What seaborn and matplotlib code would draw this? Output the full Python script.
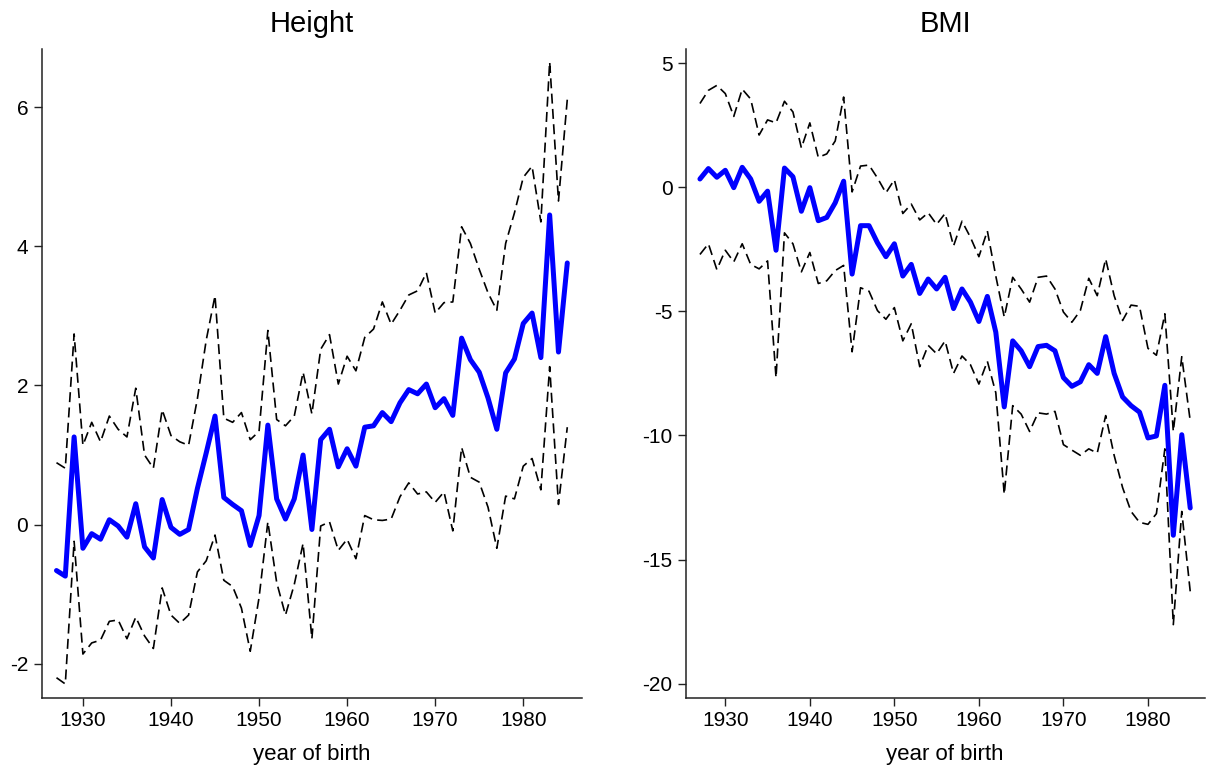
import numpy as np
import pandas as pd
import matplotlib
matplotlib.use("Agg")
import matplotlib.pyplot as plt
import seaborn as sns

# year of birth, 1927-1985
years = list(range(1927, 1986))

# Height: point estimate and 95% bounds
height_est = [-0.66, -0.74, 1.26, -0.34, -0.13, -0.21, 0.07, -0.02, -0.18, 0.30,
              -0.32, -0.48, 0.36, -0.04, -0.14, -0.07, 0.52, 1.03, 1.56, 0.39,
              0.29, 0.20, -0.30, 0.13, 1.43, 0.37, 0.08, 0.37, 1.00, -0.07,
              1.22, 1.37, 0.83, 1.09, 0.84, 1.40, 1.42, 1.61, 1.48, 1.75,
              1.94, 1.88, 2.02, 1.68, 1.81, 1.57, 2.68, 2.37, 2.19, 1.82,
              1.37, 2.18, 2.38, 2.89, 3.04, 2.40, 4.45, 2.48, 3.76]
height_hi = [0.89, 0.81, 2.74, 1.14, 1.47, 1.19, 1.56, 1.37, 1.26, 1.96,
             1.00, 0.81, 1.65, 1.28, 1.19, 1.14, 1.81, 2.65, 3.29, 1.53,
             1.47, 1.61, 1.22, 1.34, 2.79, 1.51, 1.42, 1.56, 2.19, 1.59,
             2.52, 2.73, 2.02, 2.42, 2.21, 2.69, 2.81, 3.20, 2.88, 3.08,
             3.30, 3.36, 3.62, 3.04, 3.19, 3.20, 4.28, 4.04, 3.67, 3.33,
             3.08, 4.04, 4.48, 4.99, 5.15, 4.35, 6.65, 4.65, 6.11]
height_lo = [-2.20, -2.29, -0.24, -1.86, -1.70, -1.66, -1.39, -1.37, -1.64, -1.33,
             -1.60, -1.78, -0.91, -1.30, -1.42, -1.30, -0.68, -0.52, -0.15, -0.80,
             -0.89, -1.20, -1.82, -1.05, 0.04, -0.83, -1.30, -0.86, -0.27, -1.64,
             -0.02, 0.04, -0.37, -0.21, -0.49, 0.13, 0.07, 0.06, 0.08, 0.40,
             0.60, 0.44, 0.47, 0.32, 0.47, -0.09, 1.11, 0.68, 0.61, 0.25,
             -0.34, 0.41, 0.37, 0.84, 0.95, 0.50, 2.27, 0.29, 1.40]

# BMI: point estimate and 95% bounds
bmi_est = [0.33, 0.75, 0.40, 0.68, -0.02, 0.80, 0.33, -0.57, -0.16, -2.54,
           0.77, 0.42, -0.97, -0.02, -1.35, -1.22, -0.63, 0.24, -3.50, -1.55,
           -1.55, -2.24, -2.80, -2.28, -3.58, -3.11, -4.28, -3.70, -4.10, -3.63,
           -4.89, -4.10, -4.63, -5.41, -4.40, -5.84, -8.85, -6.19, -6.59, -7.23,
           -6.42, -6.37, -6.59, -7.67, -8.02, -7.84, -7.15, -7.50, -6.02, -7.50,
           -8.45, -8.80, -9.06, -10.10, -10.02, -7.98, -14.02, -9.97, -12.92]
bmi_hi = [3.37, 3.90, 4.10, 3.77, 2.85, 3.95, 3.55, 2.10, 2.71, 2.59,
          3.46, 3.03, 1.58, 2.59, 1.20, 1.34, 1.86, 3.63, -0.19, 0.85,
          0.89, 0.37, -0.23, 0.30, -1.06, -0.68, -1.32, -1.03, -1.50, -1.06,
          -2.37, -1.37, -2.02, -2.80, -1.76, -3.58, -5.23, -3.63, -4.10, -4.63,
          -3.63, -3.58, -4.10, -5.03, -5.44, -4.97, -3.67, -4.37, -2.89, -4.37,
          -5.37, -4.75, -4.80, -6.49, -6.77, -5.10, -9.84, -6.83, -9.41]
bmi_lo = [-2.71, -2.28, -3.32, -2.54, -3.01, -2.28, -3.11, -3.29, -2.97, -7.67,
          -1.84, -2.28, -3.41, -2.63, -3.88, -3.77, -3.36, -3.15, -6.63, -4.05,
          -4.19, -4.97, -5.32, -4.85, -6.19, -5.50, -7.23, -6.37, -6.71, -6.19,
          -7.50, -6.80, -7.15, -7.93, -7.01, -8.28, -12.37, -8.80, -9.14, -9.84,
          -9.09, -9.14, -9.03, -10.37, -10.59, -10.80, -10.54, -10.71, -9.20, -10.80,
          -12.10, -13.06, -13.50, -13.58, -13.15, -10.54, -17.62, -13.06, -16.28]

df = pd.DataFrame({
    "year": years,
    "height_est": height_est, "height_lo": height_lo, "height_hi": height_hi,
    "bmi_est": bmi_est, "bmi_lo": bmi_lo, "bmi_hi": bmi_hi,
})

sns.set_style("ticks")
plt.rcParams["font.family"] = ["Liberation Sans", "DejaVu Sans"]
plt.rcParams["axes.unicode_minus"] = False
plt.rcParams["text.color"] = "black"

fig = plt.figure(figsize=(12.07, 7.72), dpi=100)
ax1 = fig.add_axes([0.0344, 0.096, 0.448, 0.841])
ax2 = fig.add_axes([0.568, 0.096, 0.430, 0.841])

dash = (0, (6, 3.2))


def draw_panel(ax, key, title, ylim, yticks):
    sns.lineplot(data=df, x="year", y=key + "_hi", ax=ax, color="black",
                 linewidth=1.2, linestyle=dash)
    sns.lineplot(data=df, x="year", y=key + "_lo", ax=ax, color="black",
                 linewidth=1.2, linestyle=dash)
    sns.lineplot(data=df, x="year", y=key + "_est", ax=ax, color="#0000ff",
                 linewidth=3.6)
    ax.set_title(title, fontsize=21, pad=12, color="black")
    ax.set_xlabel("year of birth", fontsize=16, labelpad=10, color="black")
    ax.set_ylabel("")
    ax.set_xlim(1925.3, 1986.7)
    ax.set_ylim(*ylim)
    ax.set_xticks([1930, 1940, 1950, 1960, 1970, 1980])
    ax.set_yticks(yticks)
    ax.tick_params(labelsize=15, length=6, width=1, color="#222222",
                   labelcolor="black")
    for s in ["left", "bottom"]:
        ax.spines[s].set_linewidth(1.1)
        ax.spines[s].set_color("#222222")
    sns.despine(ax=ax)


draw_panel(ax1, "height", "Height", (-2.49, 6.84), [-2, 0, 2, 4, 6])
draw_panel(ax2, "bmi", "BMI", (-20.57, 5.58), [-20, -15, -10, -5, 0, 5])

fig.savefig("out.png", dpi=100)
